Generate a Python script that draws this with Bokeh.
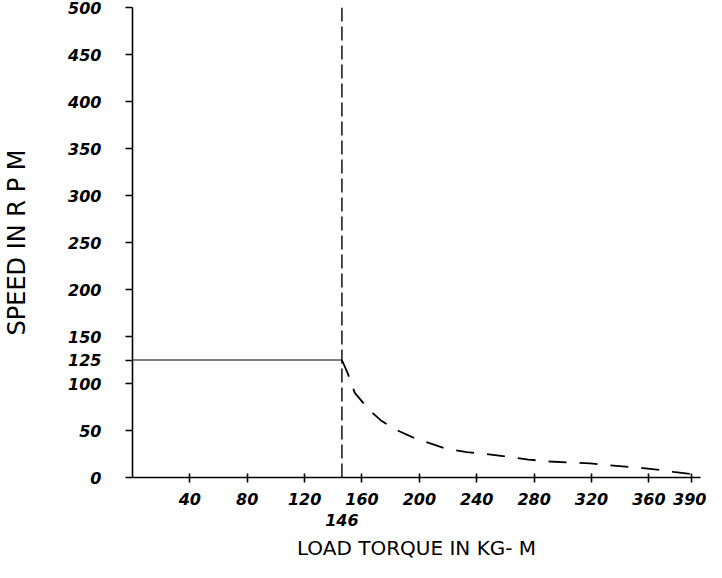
from bokeh.plotting import figure
from bokeh.models import FixedTicker, Span, Range1d, LinearAxis
from bokeh.embed import file_html
from bokeh.resources import INLINE

# ---- data ----
speed_ticks = [0, 50, 100, 125, 150, 200, 250, 300, 350, 400, 450, 500]
torque_ticks = [40, 80, 120, 160, 200, 240, 280, 320, 360, 390]
rated_speed = 125
break_torque = 146
flat_torque = [0, 146]
flat_speed = [125, 125]
curve_torque = [146, 150, 155, 165, 173, 182, 195, 206, 218, 233, 247, 262, 276, 291, 305, 319, 333, 348, 356, 368, 377, 394]
curve_speed = [125, 111, 90, 72, 61, 52, 43, 37, 31, 27, 25, 22, 19, 17, 16, 15, 13, 11, 10, 8, 6, 3]

FONT = "DejaVu Sans"

p = figure(width=706, height=562, output_backend="svg", toolbar_location=None,
           x_range=Range1d(0, 396), y_range=Range1d(0, 500),
           min_border_left=131, min_border_right=6, min_border_top=7, min_border_bottom=80)
p.outline_line_color = None
p.xgrid.visible = False
p.ygrid.visible = False
p.background_fill_color = "white"
p.border_fill_color = "white"

# second bottom axis carrying only the break-torque label and the title
brk_axis = LinearAxis(ticker=FixedTicker(ticks=[break_torque]))
p.add_layout(brk_axis, "below")


def style(ax):
    ax.axis_line_color = "black"
    ax.axis_line_width = 1.6
    ax.major_tick_line_color = "black"
    ax.major_tick_line_width = 1.6
    ax.minor_tick_line_color = None
    ax.major_label_text_font = FONT
    ax.major_label_text_font_style = "bold italic"
    ax.major_label_text_font_size = "16px"
    ax.major_label_text_color = "black"
    ax.axis_label_text_font = FONT
    ax.axis_label_text_font_style = "normal"
    ax.axis_label_text_color = "black"


for ax in (p.xaxis[0], p.yaxis[0], brk_axis):
    style(ax)

yax = p.yaxis[0]
yax.ticker = FixedTicker(ticks=speed_ticks)
yax.major_tick_in = 0
yax.major_tick_out = 7
yax.major_label_standoff = 24
yax.axis_label = "SPEED IN R P M"
yax.axis_label_text_font_size = "24px"
yax.axis_label_standoff = 34

xax = p.xaxis[0]
xax.ticker = FixedTicker(ticks=torque_ticks)
xax.major_tick_in = 4
xax.major_tick_out = 5
xax.major_label_standoff = 10

brk_axis.axis_line_color = None
brk_axis.major_tick_line_color = None
brk_axis.major_tick_in = 0
brk_axis.major_tick_out = 0
brk_axis.major_label_standoff = 6
brk_axis.axis_label = "LOAD TORQUE IN KG- M"
brk_axis.axis_label_text_font_size = "20px"
brk_axis.axis_label_standoff = 7

# rated-speed line and break torque marker
p.line(flat_torque, flat_speed, line_color="black", line_width=1.2)
p.add_layout(Span(location=break_torque, dimension="height", line_color="black",
                  line_width=1.4, line_dash="14 5"))
p.line(curve_torque, curve_speed, line_color="black", line_width=1.8, line_dash="18 13")

open("out.html", "w").write(file_html(p, INLINE))
